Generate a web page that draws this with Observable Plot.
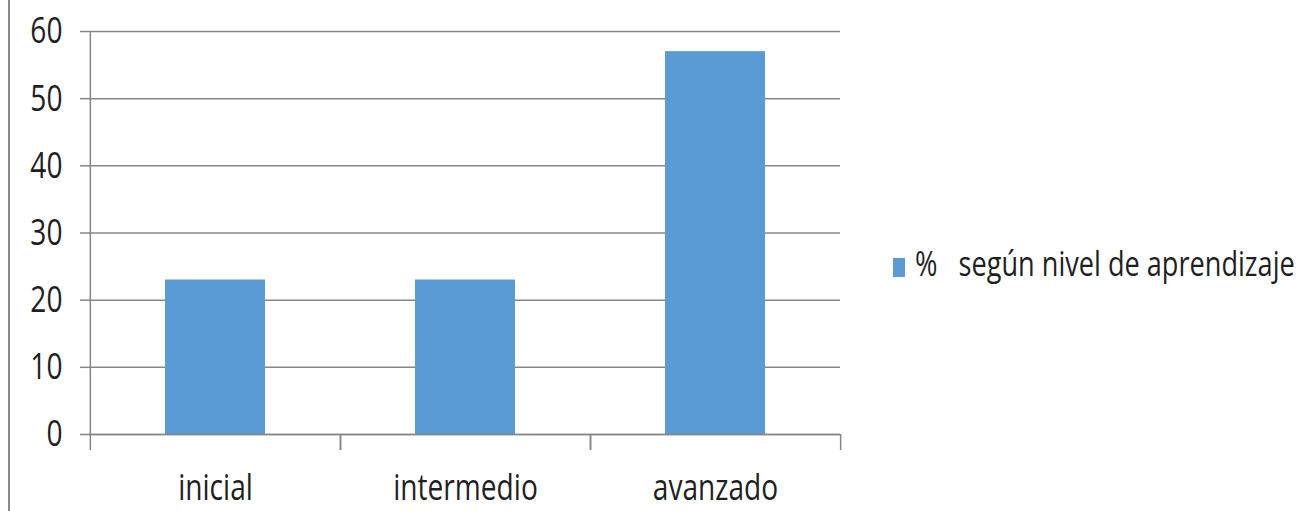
<!DOCTYPE html>
<html>
<head>
<meta charset="utf-8">
<script src="https://cdn.jsdelivr.net/npm/d3@7"></script>
<script src="https://cdn.jsdelivr.net/npm/@observablehq/plot@0.6"></script>
<style>
  html, body { margin: 0; padding: 0; background: #ffffff; }
  #wrap { position: relative; width: 1310px; height: 511px; overflow: hidden; background: #fff; }
  #border { position: absolute; left: 8px; top: 0; width: 1.5px; height: 511px; background: #8a8a8a; }
  #chart { position: absolute; left: 0; top: 0; }
  #legend { position: absolute; left: 893px; top: 256px; height: 24px; }
  #legend .sw { position: absolute; left: 0; top: 2px; width: 12px; height: 19px; background: #5B9BD5; }
  #legend .lt { position: absolute; left: 22px; top: -14px; white-space: pre; font-family: "Open Sans", sans-serif;
    font-size: 35px; color: #1f1f1f; transform: scaleX(0.775); transform-origin: 0 0; line-height: 1.2; }
</style>
</head>
<body>
<div id="wrap">
  <div id="chart"></div>
  <div id="border"></div>
  <div id="legend"><span class="sw"></span><span class="lt"></span></div>
</div>
<script>
const categories = ["inicial", "intermedio", "avanzado"];
const values = [23, 23, 57];
const yTicks = [0, 10, 20, 30, 40, 50, 60];
const seriesName = "%   según nivel de aprendizaje";

const W = 1310, H = 511;
const mL = 89, mR = 470, mT = 31, mB = 77;
const step = (W - mL - mR) / categories.length;
const SX = 0.76;
const gridColor = "#878787";
const barColor = "#5B9BD5";
const textColor = "#1f1f1f";

const data = categories.map((c, i) => ({category: c, value: values[i]}));

const plot = Plot.plot({
  width: W, height: H,
  marginLeft: mL, marginRight: mR, marginTop: mT, marginBottom: mB,
  style: {fontFamily: "Open Sans, sans-serif", fontSize: "37px", color: textColor, background: "transparent", overflow: "visible"},
  x: {domain: categories, paddingInner: 0.6, paddingOuter: 0.3, align: 0.5},
  y: {domain: [0, 60]},
  marks: [
    Plot.gridY(yTicks, {stroke: gridColor, strokeOpacity: 1, strokeWidth: 1.5}),
    Plot.axisY(yTicks, {tickSize: 9, tickPadding: 18, stroke: gridColor, strokeWidth: 1.5, label: null}),
    Plot.ruleX([categories[0]], {dx: -step / 2, stroke: gridColor, strokeWidth: 1.5}),
    Plot.barY(data, {x: "category", y: "value", fill: barColor}),
    Plot.ruleY([0], {stroke: gridColor, strokeWidth: 1.5}),
    Plot.axisX({tickSize: 16, text: null, dx: -step / 2, stroke: gridColor, strokeWidth: 1.5, label: null}),
    Plot.axisX({tickSize: 16, text: null, dx: step / 2, stroke: gridColor, strokeWidth: 1.5, label: null}),
    Plot.axisX({tickSize: 0, tickPadding: 39, label: null})
  ]
});

// horizontally condense text to mimic the narrow reference typeface
d3.select(plot).selectAll("text").each(function () {
  const tr = this.getAttribute("transform") || "";
  this.setAttribute("transform", `${tr} scale(${SX},1)`);
});

document.getElementById("chart").appendChild(plot);
document.querySelector("#legend .lt").textContent = seriesName;
</script>
</body>
</html>
